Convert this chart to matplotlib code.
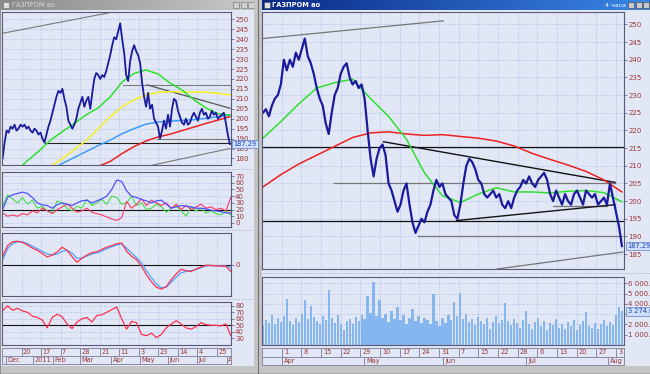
import numpy as np
import matplotlib.pyplot as plt
from matplotlib.patches import Rectangle

nan = np.nan
W, H = 650, 374

# ---- right window: ГАЗПРОМ ао, 4h bars, Apr - Aug 2011 ----
right_close = [
    225, 226, 224, 227, 229, 230, 233, 240, 237, 240,
    238, 242, 240, 243, 246, 241, 239, 236, 232, 229,
    227, 222, 219, 225, 230, 232, 236, 238, 239, 235,
    233, 234, 232, 233, 229, 220, 212, 207, 212, 215,
    216, 213, 205, 203, 200, 197, 199, 203, 205, 199,
    194, 191, 193, 195, 194, 197, 199, 203, 206, 204,
    205, 202, 201, 200, 196, 195, 199, 205, 210, 212,
    211, 209, 206, 205, 202, 201, 202, 203, 201, 202,
    199, 198, 200, 198, 201, 203, 204, 206, 205, 207,
    205, 204, 206, 207, 208, 206, 202, 200, 203, 201,
    199, 202, 200, 199, 202, 203, 201, 199, 203, 202,
    201, 202, 199, 200, 201, 199, 205, 201, 197, 193,
    187.29]
right_ma_green = [217.8, 222.5, 227.5, 232, 233.5, 234.5, 229, 224, 217.5, 208,
                  201.5, 199.6, 202, 203.8, 202.6, 202.6, 202.3, 202.8, 203, 202.4, 199.8]
right_ma_red = [204, 207.5, 210.5, 213, 215.5, 218, 219.3, 219.6, 219, 218.6,
                218.8, 218.3, 217.8, 217, 215.6, 213.5, 211.8, 210.2, 208.4, 206, 202.6]
right_volume = [
    1800, 2400, 2100, 2900, 2000, 2600, 2200, 2800, 4500, 2300,
    1900, 2600, 2200, 3000, 4400, 2500, 3800, 2700, 2300, 2000,
    2800, 2400, 5300, 2600, 2100, 2900, 2000, 1500, 2300, 2500,
    2000, 2700, 2300, 2900, 2500, 4800, 3100, 6100, 2800, 4400,
    2600, 3000, 2200, 3300, 2500, 3700, 2400, 2900, 2000, 2600,
    3500, 2300, 2800, 2100, 2600, 2400, 2000, 5000, 2300, 1800,
    2600, 2100, 2900, 2400, 4200, 2800, 5100, 2500, 3000, 2200,
    2500, 1900, 2700, 2300, 2000, 2600, 1600, 2200, 2800, 2100,
    2400, 4100, 2300, 1900, 2500, 2100, 1700, 2400, 3300, 2000,
    1600, 2200, 2600, 1800, 2300, 1500, 2100, 1900, 2500, 1700,
    2000, 1600, 2200, 1800, 2400, 1500, 1900, 2300, 3200, 1800,
    1700, 2100, 1600, 2000, 2400, 1800, 2200, 1900, 2900, 3700,
    3274]
right_days = ["1", "8", "15", "22", "29", "10", "17", "24", "31", "7",
              "15", "22", "28", "6", "13", "20", "27", "3"]
right_months = ["Apr", "May", "Jun", "Jul", "Aug"]
# trend lines: (bar, price) pairs
right_hlines = [215.3, 194.4]
right_gray_lines = [((23.7, 205.2), (117.7, 205.2)), ((51.7, 190.2), (120, 190.2)),
                    ((97, 198.5), (115, 198.5)), ((0, 246), (60.3, 251)),
                    ((78.3, 180.8), (120.3, 185.6))]
right_black_lines = [((40.3, 216.8), (117.7, 205.3)), ((64.7, 194.5), (117.7, 199))]

# ---- left window: daily bars, Dec 2010 - Aug 2011 ----
left_close = [
    180, 188, 194, 193, 196, 195, 197, 194, 195, 197,
    196, 197, 195, 196, 194, 193, 195, 194, 192, 193,
    190, 188, 192, 196, 199, 203, 207, 211, 214, 213,
    215, 210, 206, 199, 197, 195, 197, 200, 205, 208,
    211, 206, 209, 211, 205, 213, 220, 223, 222, 220,
    222, 221, 224, 228, 232, 237, 241, 240, 244, 248,
    240, 233, 222, 219, 229, 234, 237, 234, 232, 228,
    218, 211, 206, 213, 205, 207, 200, 198, 196, 190,
    194, 199, 195, 202, 196, 205, 210, 209, 204, 201,
    198, 197, 200, 197, 198, 201, 203, 201, 199, 203,
    205, 202, 203, 200, 201, 204, 202, 203, 200, 201,
    202, 203, 198, 192, 187.29]
left_ma_green = [nan, 172.5, 178.5, 183.5, 189.2, 193.5, 197.6, 202, 205.5, 211,
                 218.5, 222.8, 224.5, 222.5, 218, 214.5, 209.5, 205.5, 202.5, 201.8]
left_ma_yellow = [nan, nan, nan, 172, 176, 180, 184.5, 189, 195, 201,
                  206, 209.5, 212, 213.3, 213.6, 213.5, 213.4, 213.3, 212.8, 211.9]
left_ma_blue = [nan, nan, nan, nan, 174, 177.5, 180.5, 183.5, 186.5, 189.2,
                192.5, 195, 197.3, 198.3, 198.8, 199.1, 199.5, 200.2, 201, 201.8]
left_ma_red = [nan, nan, nan, nan, nan, nan, nan, 173, 176, 178.5,
               182.5, 186, 188.8, 190.8, 192.2, 194, 195.8, 197.6, 199.3, 201]
left_hlines = [((21.5, 187.6), (114.5, 187.6))]
left_gray_lines = [((60.5, 217), (114.5, 217)), ((77.5, 190), (114.5, 190)),
                   ((0, 243), (55.5, 253.7)), ((75.5, 176.7), (114, 185))]
left_dark_lines = [((72.5, 217), (114, 205.3))]

dmi_adx = [20, 38, 42, 44, 46, 44, 38, 30, 27, 26, 22, 27, 30, 28, 26, 30, 33, 34, 30, 33,
           36, 40, 50, 64, 62, 48, 40, 38, 35, 33, 30, 33, 34, 28, 22, 24, 26, 25, 24, 22,
           22, 21, 19, 18, 17, 15, 15]
dmi_plus = [25, 42, 36, 30, 38, 28, 34, 22, 25, 18, 15, 33, 30, 22, 18, 25, 22, 35, 26, 30,
            35, 28, 40, 38, 28, 30, 40, 26, 30, 20, 22, 28, 24, 16, 22, 26, 18, 10, 24, 18,
            22, 15, 18, 14, 12, 18, 12]
dmi_minus = [15, 10, 12, 10, 14, 12, 18, 15, 22, 18, 14, 20, 24, 28, 22, 16, 18, 22, 16, 14,
             12, 9, 6, 4, 8, 32, 22, 28, 36, 26, 34, 30, 26, 30, 22, 28, 20, 26, 20, 24,
             28, 22, 24, 20, 22, 18, 38]
macd = [0.25, 0.6, 0.72, 0.74, 0.7, 0.62, 0.52, 0.45, 0.35, 0.24, 0.3, 0.4, 0.55, 0.45, 0.25,
        0.07, 0.2, 0.3, 0.38, 0.4, 0.48, 0.55, 0.6, 0.66, 0.68, 0.42, 0.26, 0.15, -0.05, -0.33,
        -0.55, -0.72, -0.78, -0.7, -0.48, -0.3, -0.15, -0.2, -0.22, -0.14, -0.08, -0.02, -0.03,
        -0.04, -0.05, -0.05, -0.22]
macd_signal = [0.15, 0.5, 0.66, 0.72, 0.72, 0.66, 0.58, 0.5, 0.42, 0.34, 0.3, 0.33, 0.42, 0.45,
               0.36, 0.2, 0.2, 0.27, 0.33, 0.37, 0.43, 0.5, 0.56, 0.62, 0.66, 0.52, 0.36, 0.22,
               0.05, -0.2, -0.42, -0.62, -0.74, -0.72, -0.56, -0.4, -0.26, -0.22, -0.2, -0.16,
               -0.1, -0.05, -0.03, -0.04, -0.04, -0.05, -0.1]
rsi = [72, 80, 73, 76, 72, 70, 64, 62, 58, 46, 62, 67, 63, 52, 45, 55, 60, 62, 55, 65,
       66, 70, 74, 78, 60, 44, 56, 54, 36, 34, 38, 31, 36, 46, 52, 57, 52, 46, 44, 48,
       54, 51, 50, 50, 49, 52, 34]
left_days = ["20", "17", "7", "28", "21", "11", "3", "23", "14", "4", "25"]
left_months = ["Dec", "2011", "Feb", "Mar", "Apr", "May", "Jun", "Jul", "Aug"]

BG = '#e2e7f6'
GRID = '#a4b6ea'
FRAME = '#5a5a78'
LABEL = '#9a3636'
PRICE = '#1a1a9c'

fig = plt.figure(figsize=(6.5, 3.74), dpi=100, facecolor=BG)


def px_axes(x0, y0, x1, y1):
    return fig.add_axes([x0 / W, 1 - y1 / H, (x1 - x0) / W, (y1 - y0) / H])


def style_panel(ax, yticks, ylabels, xticks):
    ax.set_facecolor(BG)
    for s in ax.spines.values():
        s.set_color(FRAME)
        s.set_linewidth(0.8)
    ax.yaxis.tick_right()
    ax.set_yticks(yticks)
    ax.set_yticklabels(ylabels)
    ax.set_xticks(xticks)
    ax.tick_params(axis='y', direction='out', length=2, width=0.5, pad=1,
                   labelsize=5, labelcolor=LABEL, color=FRAME)
    ax.tick_params(axis='x', length=0, labelbottom=False)
    ax.grid(True, color=GRID, ls=':', lw=0.6)
    ax.set_axisbelow(True)


def value_box(ax, y, text):
    ax.text(1.01, y, text, transform=ax.get_yaxis_transform(), ha='left', va='center',
            fontsize=4.8, color='#2040c0', clip_on=False, zorder=10,
            bbox=dict(boxstyle='square,pad=0.2', fc='#cfe0fb', ec='#6080c0', lw=0.5))


def draw_segments(ax, segs, color, lw):
    for (xa, ya), (xb, yb) in segs:
        ax.plot([xa, xb], [ya, yb], color=color, lw=lw)


def date_strip(ax, xlim, day_x, days, month_x, months):
    ax.set_facecolor(BG)
    ax.set_xlim(*xlim)
    ax.set_ylim(0, 2)
    ax.set_xticks([])
    ax.set_yticks([])
    for s in ax.spines.values():
        s.set_color('#8a8aa6')
        s.set_linewidth(0.7)
    ax.axhline(1, color='#8a8aa6', lw=0.7)
    for xd, lab in zip(day_x, days):
        ax.plot([xd, xd], [1, 2], color='#8a8aa6', lw=0.7)
        ax.text(xd + (xlim[1] - xlim[0]) * 0.006, 1.5, lab, fontsize=4.8, color=LABEL,
                ha='left', va='center')
    for xm, lab in zip(month_x, months):
        ax.plot([xm, xm], [0, 1], color='#8a8aa6', lw=0.7)
        ax.text(xm + (xlim[1] - xlim[0]) * 0.006, 0.5, lab, fontsize=4.8, color=LABEL,
                ha='left', va='center', clip_on=True)


# ---- window chrome ----
chrome = fig.add_axes([0, 0, 1, 1])
chrome.set_xlim(0, W)
chrome.set_ylim(H, 0)
chrome.axis('off')
grad = np.linspace(0, 1, 256).reshape(1, -1)
chrome.imshow(grad, cmap=plt.matplotlib.colors.LinearSegmentedColormap.from_list(
    'tb', ['#0a2a86', '#3a86e6']), extent=[262, 650, 9.5, 0], aspect='auto')
chrome.imshow(grad, cmap=plt.matplotlib.colors.LinearSegmentedColormap.from_list(
    'tg', ['#8a8a8a', '#c8c8c8']), extent=[0, 254, 9.5, 0], aspect='auto')
chrome.set_xlim(0, W)
chrome.set_ylim(H, 0)
chrome.text(272, 5, 'ГАЗПРОМ ао', color='white', fontsize=4.8, fontweight='bold',
            va='center')
chrome.text(626, 5, '4 часа', color='white', fontsize=4.5, va='center', ha='right')
chrome.text(12, 5, 'ГАЗПРОМ ао', color='#d8d8d8', fontsize=4.8, va='center')
for bx in (628, 636, 643):
    chrome.add_patch(Rectangle((bx, 1.5), 6, 6, fc='#c8c8c8', ec='#404040', lw=0.4))
for bx in (233, 241, 248):
    chrome.add_patch(Rectangle((bx, 1.5), 6, 6, fc='#d0d0d0', ec='#707070', lw=0.4))
chrome.add_patch(Rectangle((3, 1.5), 6, 6, fc='#e0e0e0', ec='#707070', lw=0.4))
chrome.add_patch(Rectangle((264, 1.5), 6, 6, fc='#e0e0e0', ec='#404040', lw=0.4))
chrome.add_patch(Rectangle((254, 0), 8, H, fc='#c4c4c4', ec='none'))
chrome.plot([258, 258], [0, H], color='#707070', lw=0.8)
chrome.add_patch(Rectangle((0, 366), W, 8, fc='#c4c4c4', ec='none'))
chrome.plot([0, W], [373.5, 373.5], color='#505050', lw=1)
chrome.plot([0, 0], [0, H], color='#909090', lw=1.5)
for yy in (168.5, 230, 299):
    chrome.plot([0, 252], [yy, yy], color='#9a9aa8', lw=0.6, ls=':')
chrome.plot([262, 650], [273, 273], color='#9a9aa8', lw=0.6, ls=':')

# ---- right main price chart ----
rx = np.arange(len(right_close))
r_xlim = (-0.3, 120.7)
r_day_x = 6.33 + 6.57 * np.arange(len(right_days))
r_month_x = [6.33, 33.7, 60.3, 88, 115.3]
ma_x = np.linspace(0, 120, len(right_ma_green))

ax = px_axes(262, 12, 624, 269)
style_panel(ax, np.arange(185, 251, 5), [str(v) for v in range(185, 251, 5)], r_day_x)
for hy in right_hlines:
    ax.axhline(hy, color='#111111', lw=0.9)
draw_segments(ax, right_gray_lines, '#767676', 0.9)
draw_segments(ax, right_black_lines, '#111111', 1.0)
ax.plot(ma_x, right_ma_red, color='#ee2020', lw=1.1)
ax.plot(ma_x, right_ma_green, color='#2ee02e', lw=1.1)
ax.plot(rx, right_close, color=PRICE, lw=1.6)
ax.set_xlim(*r_xlim)
ax.set_ylim(180.8, 253.5)
value_box(ax, right_close[-1], f'{right_close[-1]:.2f}')

# ---- right volume ----
axv = px_axes(262, 277, 624, 345)
vol_ticks = [1000, 2000, 3000, 4000, 5000, 6000]
# the 3 000 label sits under the last-value box in the reference
vol_labels = [f'{v:,.2f}'.replace(',', ' ') if v != 3000 else '' for v in vol_ticks]
style_panel(axv, vol_ticks, vol_labels, r_day_x)
axv.bar(rx, right_volume, width=0.75, color='#86b6f0', edgecolor='none')
axv.set_xlim(*r_xlim)
axv.set_ylim(0, 6610)
value_box(axv, right_volume[-1], f'{right_volume[-1]:,.2f}'.replace(',', ' '))

date_strip(px_axes(262, 348, 624, 365), r_xlim, r_day_x, right_days, r_month_x, right_months)

# ---- left main price chart ----
lx = np.arange(len(left_close))
l_xlim = (-0.3, 114.6)
l_day_x = 9.5 + 9.8 * np.arange(len(left_days))
l_month_x = [1.5, 15.5, 25.5, 39, 54.5, 69, 83, 97.5, 112.5]
lma_x = np.arange(0, 115, 6)

axl = px_axes(2, 12, 231, 165)
style_panel(axl, np.arange(180, 251, 5), [str(v) for v in range(180, 251, 5)], l_day_x)
draw_segments(axl, left_hlines, '#222222', 0.8)
draw_segments(axl, left_gray_lines, '#7a7a7a', 0.8)
draw_segments(axl, left_dark_lines, '#555555', 0.9)
axl.plot(lma_x, left_ma_yellow, color='#f4f020', lw=1.1)
axl.plot(lma_x, left_ma_blue, color='#3a9cff', lw=1.1)
axl.plot(lma_x, left_ma_red, color='#ee2020', lw=1.1)
axl.plot(lma_x, left_ma_green, color='#2ee02e', lw=1.1)
axl.plot(lx, left_close, color=PRICE, lw=1.3)
axl.set_xlim(*l_xlim)
axl.set_ylim(176.7, 253.7)
value_box(axl, left_close[-1], f'{left_close[-1]:.2f}')

ix = np.linspace(0, 114.5, len(rsi))

# DMI / ADX
ax1 = px_axes(2, 172, 231, 227)
style_panel(ax1, np.arange(0, 71, 10), [str(v) for v in range(0, 71, 10)], l_day_x)
ax1.axhline(20, color='#111111', lw=0.8)
ax1.plot(ix, dmi_plus, color='#44dd44', lw=0.8)
ax1.plot(ix, dmi_minus, color='#ff3860', lw=0.8)
ax1.plot(ix, dmi_adx, color='#5050ff', lw=0.9)
ax1.set_xlim(*l_xlim)
ax1.set_ylim(-6, 76)

# MACD
ax2 = px_axes(2, 233, 231, 296)
style_panel(ax2, [0], ['0'], l_day_x)
ax2.axhline(0, color='#111111', lw=0.8)
ax2.plot(ix, macd_signal, color='#4aa4ff', lw=0.9)
ax2.plot(ix, macd, color='#ff3050', lw=0.9)
ax2.set_xlim(*l_xlim)
ax2.set_ylim(-1, 1)

# RSI
ax3 = px_axes(2, 302, 231, 345)
style_panel(ax3, np.arange(30, 81, 10), [str(v) for v in range(30, 81, 10)], l_day_x)
ax3.axhline(50, color='#111111', lw=0.8)
ax3.plot(ix, rsi, color='#ff3050', lw=0.9)
ax3.set_xlim(*l_xlim)
ax3.set_ylim(19.7, 85.7)

date_strip(px_axes(2, 348, 231, 364), l_xlim, l_day_x, left_days, l_month_x, left_months)

fig.savefig('out.png', dpi=100, facecolor=fig.get_facecolor())
